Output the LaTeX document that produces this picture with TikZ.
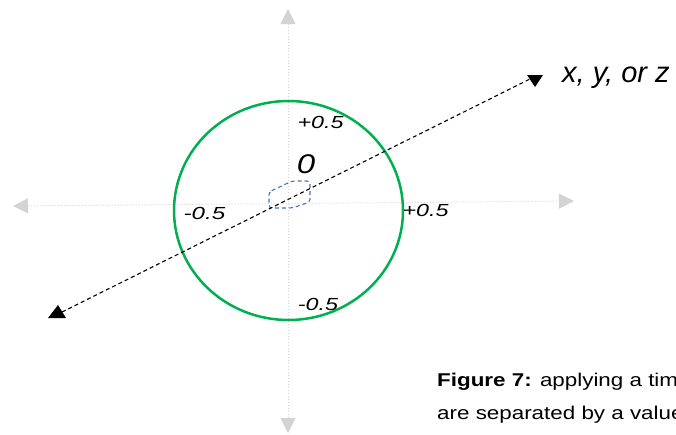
\documentclass[tikz,border=0pt]{standalone}
\usepackage{fontspec}
\setmainfont{Liberation Sans}
\usetikzlibrary{arrows.meta}
\definecolor{axisgray}{HTML}{D3D3D3}
\definecolor{circgreen}{HTML}{00B050}
\definecolor{shapeblue}{HTML}{4472C4}
\newcommand{\hs}[2]{\scalebox{#1}[1]{#2}}
\begin{document}
\begin{tikzpicture}[x=1pt,y=-1pt,
  axisline/.style={axisgray, line width=1pt, dotted,
    {Triangle[length=15pt,width=15pt,fill=axisgray]}-{Triangle[length=15pt,width=15pt,fill=axisgray]}},
  dashline/.style={black, line width=1.1pt, dash pattern=on 4pt off 3pt},
  headtri/.style={black},
  blueshape/.style={shapeblue, line width=1.1pt, dash pattern=on 4pt off 3pt, rounded corners=3pt},
  lbl/.style={inner sep=0pt, anchor=base, font=\fontsize{17.5}{20}\selectfont\itshape},
  biglbl/.style={inner sep=0pt, anchor=base, font=\fontsize{27}{30}\selectfont\itshape},
  captext/.style={inner sep=0pt, anchor=base west, font=\fontsize{18.5}{21}\selectfont}]
\useasboundingbox (0,0) rectangle (676,434);
\clip (0,0) rectangle (676,434);
% axes
\coordinate (L) at (13,206);
\coordinate (R) at (574,201);
\coordinate (T) at (288,9);
\coordinate (B) at (288,433);
\draw[axisline] (L) -- (R);
\draw[axisline] (T) -- (B);
% green circle
\draw[circgreen, line width=2.5pt] (288.5,210.5) ellipse [x radius=114.5pt, y radius=109.5pt];
% blue dashed shape
\draw[blueshape] (269,192) -- (292,181) -- (310,181) -- (310,202) -- (292,208) -- (269,208) -- cycle;
% dashed axis
\coordinate (DL) at (62,312);
\coordinate (DR) at (530,79);
\draw[dashline] (DL) -- (DR);
\fill[headtri] (48,318) -- (66,318) -- (58,305) -- cycle;
\fill[headtri] (527,75) -- (543,75) -- (535,87) -- cycle;
% labels
\node[lbl] (ptop) at (320.5,128) {\hs{1.33}{+0.5}};
\node[biglbl] (zero) at (306,173) {\hs{1.22}{0}};
\node[lbl] (mleft) at (204.5,219) {\hs{1.38}{-0.5}};
\node[lbl] (pright) at (425.5,216) {\hs{1.33}{+0.5}};
\node[lbl] (mbot) at (318,310) {\hs{1.33}{-0.5}};
\node[inner sep=0pt, anchor=base west, font=\fontsize{29}{34}\selectfont\itshape] (xyz) at (562,82) {x, y, or z};
% caption
\node[captext] (cap1) at (437,386) {\hs{1.21}{\textbf{Figure 7:} applying a time}};
\node[captext] (cap2) at (437,419) {\hs{1.21}{are separated by a value}};
\end{tikzpicture}
\end{document}
